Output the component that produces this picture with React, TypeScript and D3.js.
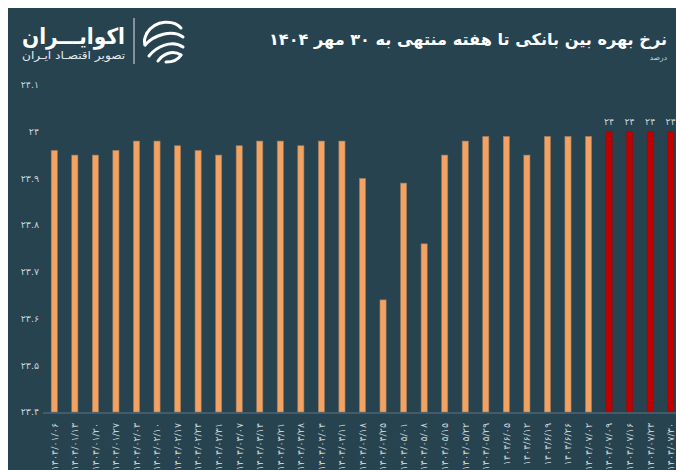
import React from "react";
import * as d3 from "d3";

// هفته‌ها (تاریخ پایان هفته)
const dates = [
  "۱۴۰۴/۰۱/۰۶", "۱۴۰۴/۰۱/۱۳", "۱۴۰۴/۰۱/۲۰", "۱۴۰۴/۰۱/۲۷", "۱۴۰۴/۰۲/۰۳",
  "۱۴۰۴/۰۲/۱۰", "۱۴۰۴/۰۲/۱۷", "۱۴۰۴/۰۲/۲۴", "۱۴۰۴/۰۲/۳۱", "۱۴۰۴/۰۳/۰۷",
  "۱۴۰۴/۰۳/۱۴", "۱۴۰۴/۰۳/۲۱", "۱۴۰۴/۰۳/۲۸", "۱۴۰۴/۰۴/۰۴", "۱۴۰۴/۰۴/۱۱",
  "۱۴۰۴/۰۴/۱۸", "۱۴۰۴/۰۴/۲۵", "۱۴۰۴/۰۵/۰۱", "۱۴۰۴/۰۵/۰۸", "۱۴۰۴/۰۵/۱۵",
  "۱۴۰۴/۰۵/۲۲", "۱۴۰۴/۰۵/۲۹", "۱۴۰۴/۶/۰۵", "۱۴۰۴/۶/۱۲", "۱۴۰۴/۶/۱۹",
  "۱۴۰۴/۶/۲۶", "۱۴۰۴/۰۷/۰۲", "۱۴۰۴/۰۷/۰۹", "۱۴۰۴/۰۷/۱۶", "۱۴۰۴/۰۷/۲۳",
  "۱۴۰۴/۰۷/۳۰",
];

const rates = [
  23.96, 23.95, 23.95, 23.96, 23.98, 23.98, 23.97, 23.96, 23.95, 23.97,
  23.98, 23.98, 23.97, 23.98, 23.98, 23.9, 23.64, 23.89, 23.76, 23.95,
  23.98, 23.99, 23.99, 23.95, 23.99, 23.99, 23.99, 24, 24, 24,
  24,
];

// last weeks drawn in red with value labels
const highlighted = ["۱۴۰۴/۰۷/۰۹", "۱۴۰۴/۰۷/۱۶", "۱۴۰۴/۰۷/۲۳", "۱۴۰۴/۰۷/۳۰"];

const yTicks = [23.4, 23.5, 23.6, 23.7, 23.8, 23.9, 24, 24.1];

const title = "نرخ بهره بین بانکی تا هفته منتهی به ۳۰ مهر ۱۴۰۴";
const unit = "درصد";
const brand = "اکوایـــران";
const brandSub = "تصویر اقتصـاد ایـران";

const W = 668;
const H = 462;
const BG = "#26434f";
const ORANGE = "#f4a261";
const RED = "#c00000";
const LABEL = "#c9d3d8";
const FONT = "'DejaVu Sans', sans-serif";

const fa = (s: string) => s.replace(/\d/g, (d) => "۰۱۲۳۴۵۶۷۸۹"[+d]);

function Logo() {
  return (
    <g>
      <text
        x={117}
        y={36}
        direction="rtl"
        textAnchor="start"
        fontSize={22}
        fontWeight="bold"
        fill="#fff"
        textLength={103}
        lengthAdjust="spacingAndGlyphs"
      >
        {brand}
      </text>
      <text
        x={117}
        y={51}
        direction="rtl"
        textAnchor="start"
        fontSize={10.5}
        fill="#e6ecef"
        textLength={103}
        lengthAdjust="spacingAndGlyphs"
      >
        {brandSub}
      </text>
      <line x1={126} x2={126} y1={10} y2={56} stroke="#dfe6ea" strokeWidth={1} />
      <g
        transform="translate(156,33)"
        fill="none"
        stroke="#fff"
        strokeWidth={3}
        strokeLinecap="round"
      >
        <path d="M17,-13 C10,-21 -8,-22 -17,-8" />
        <path d="M19,-4 C8,-12 -10,-6 -19,4" />
        <path d="M19,6 C8,-2 -8,6 -15,15" />
        <path d="M17,14 C8,8 -2,14 -6,20" />
        <path d="M-17,-8 C-20,-2 -20,0 -19,4" />
        <path d="M17,14 C14,19 8,21 2,21" />
      </g>
    </g>
  );
}

export default function App() {
  const x = d3
    .scaleBand<string>()
    .domain(dates)
    .range([36, 673])
    .paddingInner(0.7)
    .paddingOuter(0.35);

  const y = d3.scaleLinear().domain([23.4, 24.1]).range([404, 77]);

  const data = dates.map((d, i) => ({ date: d, value: rates[i] }));

  return (
    <div
      style={{
        position: "fixed",
        left: 0,
        top: 0,
        width: 676,
        height: 470,
        overflow: "hidden",
        background: "#fff",
      }}
    >
      <svg
        width={W}
        height={H}
        style={{ position: "absolute", left: 8, top: 8, display: "block" }}
        fontFamily={FONT}
      >
        <rect width={W} height={H} fill={BG} />

        <Logo />

        {/* title */}
        <text
          x={659}
          y={37}
          direction="rtl"
          textAnchor="start"
          fontSize={16}
          fontWeight="bold"
          fill="#fff"
          textLength={398}
          lengthAdjust="spacingAndGlyphs"
        >
          {title}
        </text>
        <text x={659} y={52} direction="rtl" textAnchor="start" fontSize={7.5} fill={LABEL}>
          {unit}
        </text>

        {/* y axis labels */}
        {yTicks.map((t) => (
          <text
            key={t}
            x={31}
            y={y(t)}
            dy="0.35em"
            textAnchor="end"
            fontSize={9.5}
            fill={LABEL}
          >
            {fa(d3.format("~g")(t))}
          </text>
        ))}

        {/* bars */}
        {data.map((d) => {
          const hi = highlighted.includes(d.date);
          return (
            <rect
              key={d.date}
              x={x(d.date)}
              y={y(d.value)}
              width={x.bandwidth()}
              height={y(23.4) - y(d.value)}
              fill={hi ? RED : ORANGE}
              stroke={hi ? "#8a1010" : "#9a7a5e"}
              strokeWidth={0.6}
            />
          );
        })}

        {/* value labels on highlighted bars */}
        {data
          .filter((d) => highlighted.includes(d.date))
          .map((d) => (
            <text
              key={"v" + d.date}
              x={(x(d.date) as number) + x.bandwidth() / 2}
              y={y(d.value) - 7}
              textAnchor="middle"
              fontSize={9.5}
              fill={LABEL}
            >
              {fa(d3.format("~g")(d.value))}
            </text>
          ))}

        {/* x axis */}
        <line x1={35} x2={W} y1={405} y2={405} stroke="#5f7884" strokeWidth={1} />
        {dates.map((d) => {
          const cx = (x(d) as number) + x.bandwidth() / 2;
          return (
            <text
              key={"x" + d}
              transform={`translate(${cx},${415}) rotate(-90)`}
              dy="0.35em"
              textAnchor="end"
              fontSize={9.5}
              fill={LABEL}
            >
              {d}
            </text>
          );
        })}
      </svg>
    </div>
  );
}
